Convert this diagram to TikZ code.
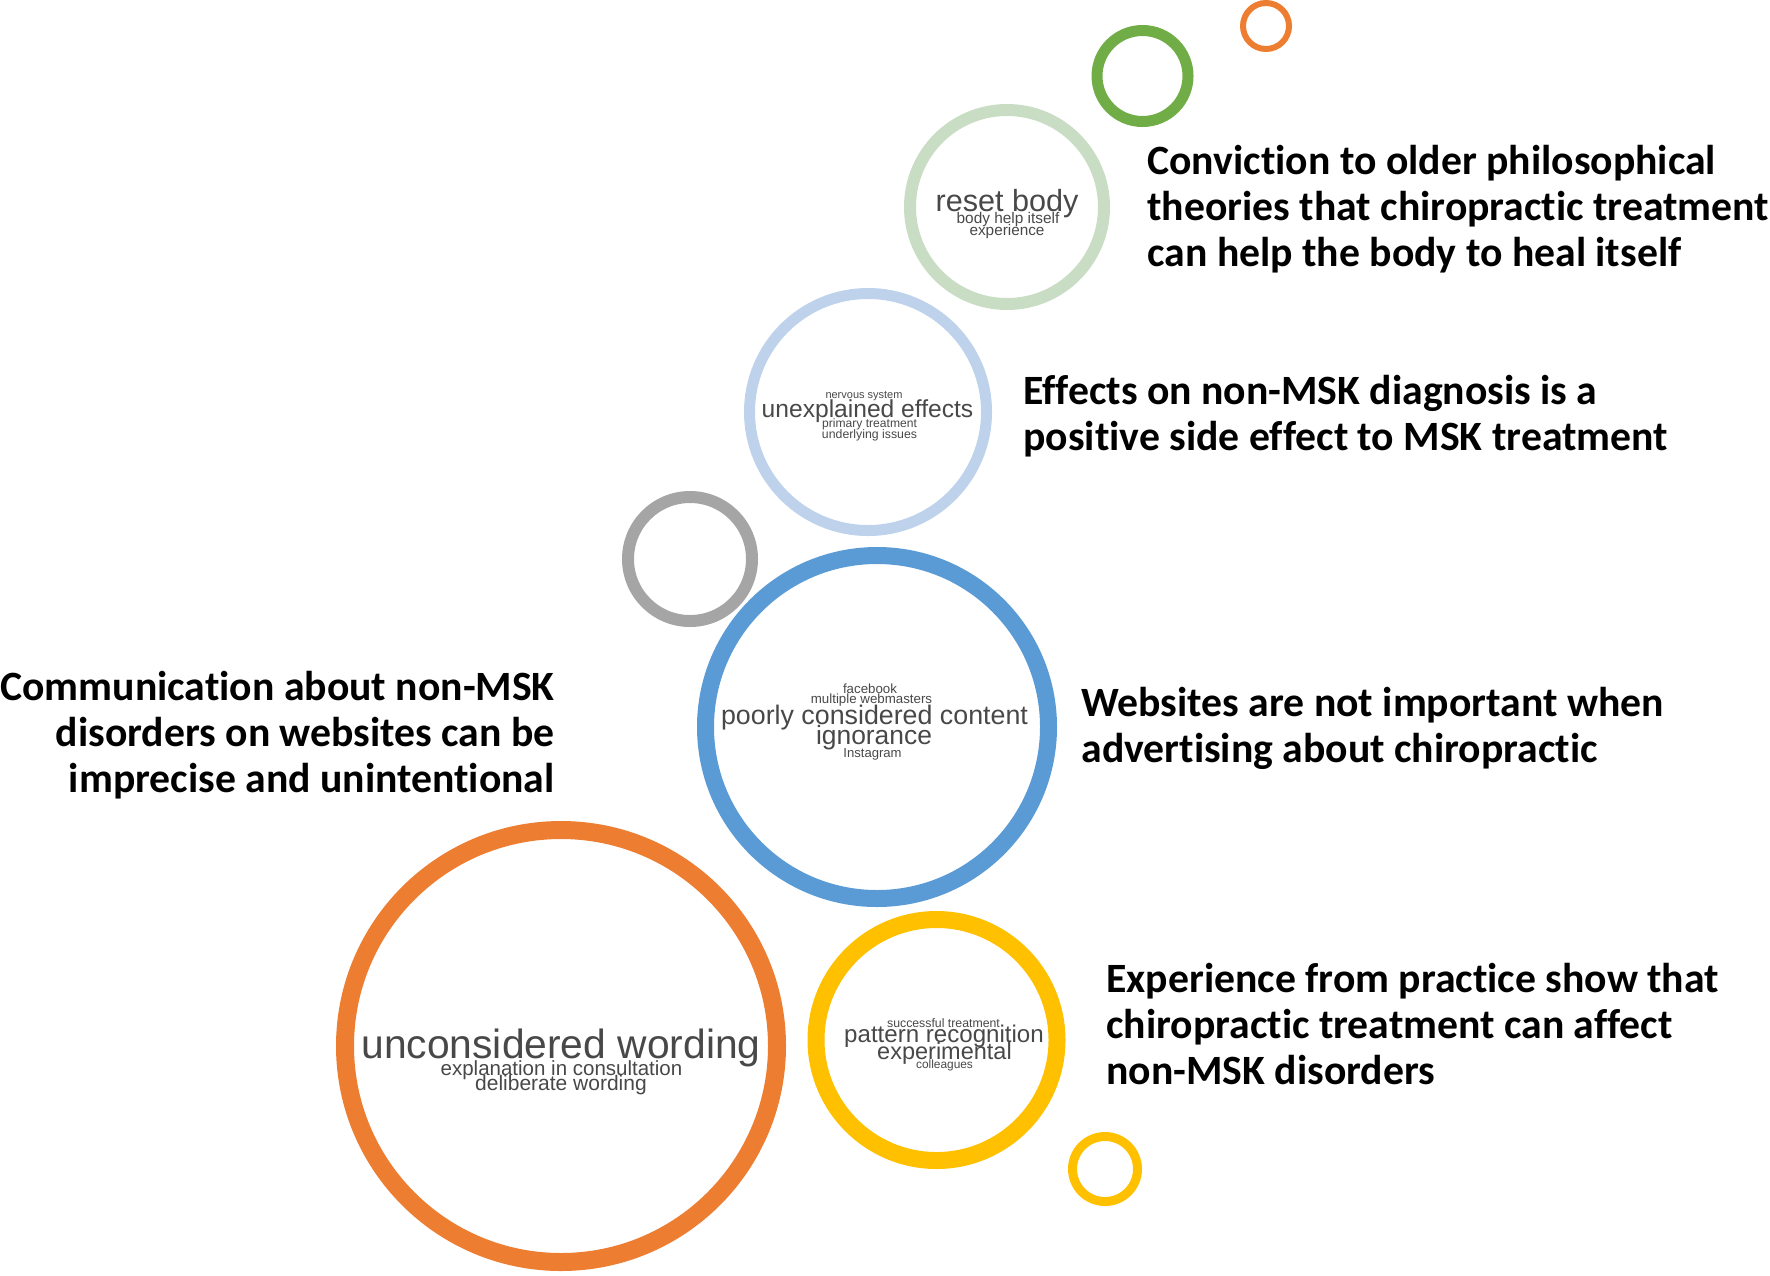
\documentclass[tikz,border=0pt]{standalone}
\usepackage{fontspec}
\setmainfont{Carlito}[Ligatures={NoCommon}]
\newfontfamily\wcfont{Liberation Sans}
\definecolor{cOrange}{HTML}{ED7D31}
\definecolor{cGreen}{HTML}{70AD47}
\definecolor{cLtGreen}{HTML}{C8DDC3}
\definecolor{cLtBlue}{HTML}{BED2EB}
\definecolor{cGray}{HTML}{A5A5A5}
\definecolor{cBlue}{HTML}{5B9BD5}
\definecolor{cYellow}{HTML}{FFC000}
\definecolor{cWord}{RGB}{72,72,72}
\tikzset{
  ring/.style={circle, draw, inner sep=0pt, minimum size=#1},
  lbl/.style={inner sep=0pt, align=left, font=\fontsize{20.85pt}{22.85pt}\selectfont\bfseries, text=black},
  wc/.style={inner sep=0pt, anchor=base, text=cWord, font=\wcfont\fontsize{#1}{#1}\selectfont}
}
\begin{document}
\begin{tikzpicture}[x={(0.5pt,0)}, y={(0,-0.5pt)}]
\useasboundingbox (0,0) rectangle (1770,1275);
% rings
\node[ring=23pt, draw=cOrange, line width=3pt] (orsm) at (1266,26) {};
\node[ring=45.5pt, draw=cGreen, line width=5.5pt] (grn) at (1142.5,76) {};
\node[ring=97pt, draw=cLtGreen, line width=6pt] (ltg) at (1007,207) {};
\node[ring=118.5pt, draw=cLtBlue, line width=5.5pt] (ltb) at (868,412) {};
\node[ring=62pt, draw=cGray, line width=6pt] (gry) at (690,559) {};
\node[ring=171.5pt, draw=cBlue, line width=8.5pt] (blu) at (877,727) {};
\node[ring=216pt, draw=cOrange, line width=9pt] (org) at (561,1046) {};
\node[ring=120.5pt, draw=cYellow, line width=8.5pt] (yel) at (936.5,1040) {};
\node[ring=32.5pt, draw=cYellow, line width=4.5pt] (yelsm) at (1105,1169) {};
% word cloud: reset body
\node[wc=15.3pt] (w11) at (1007,211) {reset body};
\node[wc=7.7pt] (w12) at (1008,223) {body help itself};
\node[wc=7.65pt] (w13) at (1007,235) {experience};
% unexplained effects
\node[wc=5.5pt] (w21) at (864,398) {nervous system};
\node[wc=12.3pt] (w22) at (867.5,417) {unexplained effects};
\node[wc=6.05pt] (w23) at (869.5,427) {primary treatment};
\node[wc=6.15pt] (w24) at (869.5,438) {underlying issues};
% poorly considered content
\node[wc=6.65pt] (w31) at (870,693) {facebook};
\node[wc=6.65pt] (w32) at (871.5,703) {multiple webmasters};
\node[wc=13.4pt] (w33) at (874.5,724) {poorly considered content};
\node[wc=13.2pt] (w34) at (874,744) {ignorance};
\node[wc=6.55pt] (w35) at (872.5,757) {Instagram};
% pattern recognition
\node[wc=6.15pt] (w41) at (943.5,1027) {successful treatment};
\node[wc=12.05pt] (w42) at (944,1042) {pattern recognition};
\node[wc=11.75pt] (w43) at (944.5,1059) {experimental};
\node[wc=5.95pt] (w44) at (944.5,1068) {colleagues};
% unconsidered wording
\node[wc=20.4pt] (w51) at (561,1058) {unconsidered wording};
\node[wc=10.25pt] (w52) at (561.5,1075) {explanation in consultation};
\node[wc=10.5pt] (w53) at (561,1090) {deliberate wording};
% labels
\node[lbl, anchor=north west] (t1) at (1147,145) {Conviction to older philosophical\\theories that chiropractic treatment\\can help the body to heal itself};
\node[lbl, anchor=north west] (t2) at (1023,375) {Effects on non-MSK diagnosis is a\\positive side effect to MSK treatment};
\node[lbl, anchor=north west] (t3) at (1081,687) {Websites are not important when\\advertising about chiropractic};
\node[lbl, anchor=north west] (t4) at (1106,963) {Experience from practice show that\\chiropractic treatment can affect\\non-MSK disorders};
\node[lbl, anchor=north east, align=right] (t5) at (555,671) {Communication about non-MSK\\disorders on websites can be\\imprecise and unintentional};
\end{tikzpicture}
\end{document}
